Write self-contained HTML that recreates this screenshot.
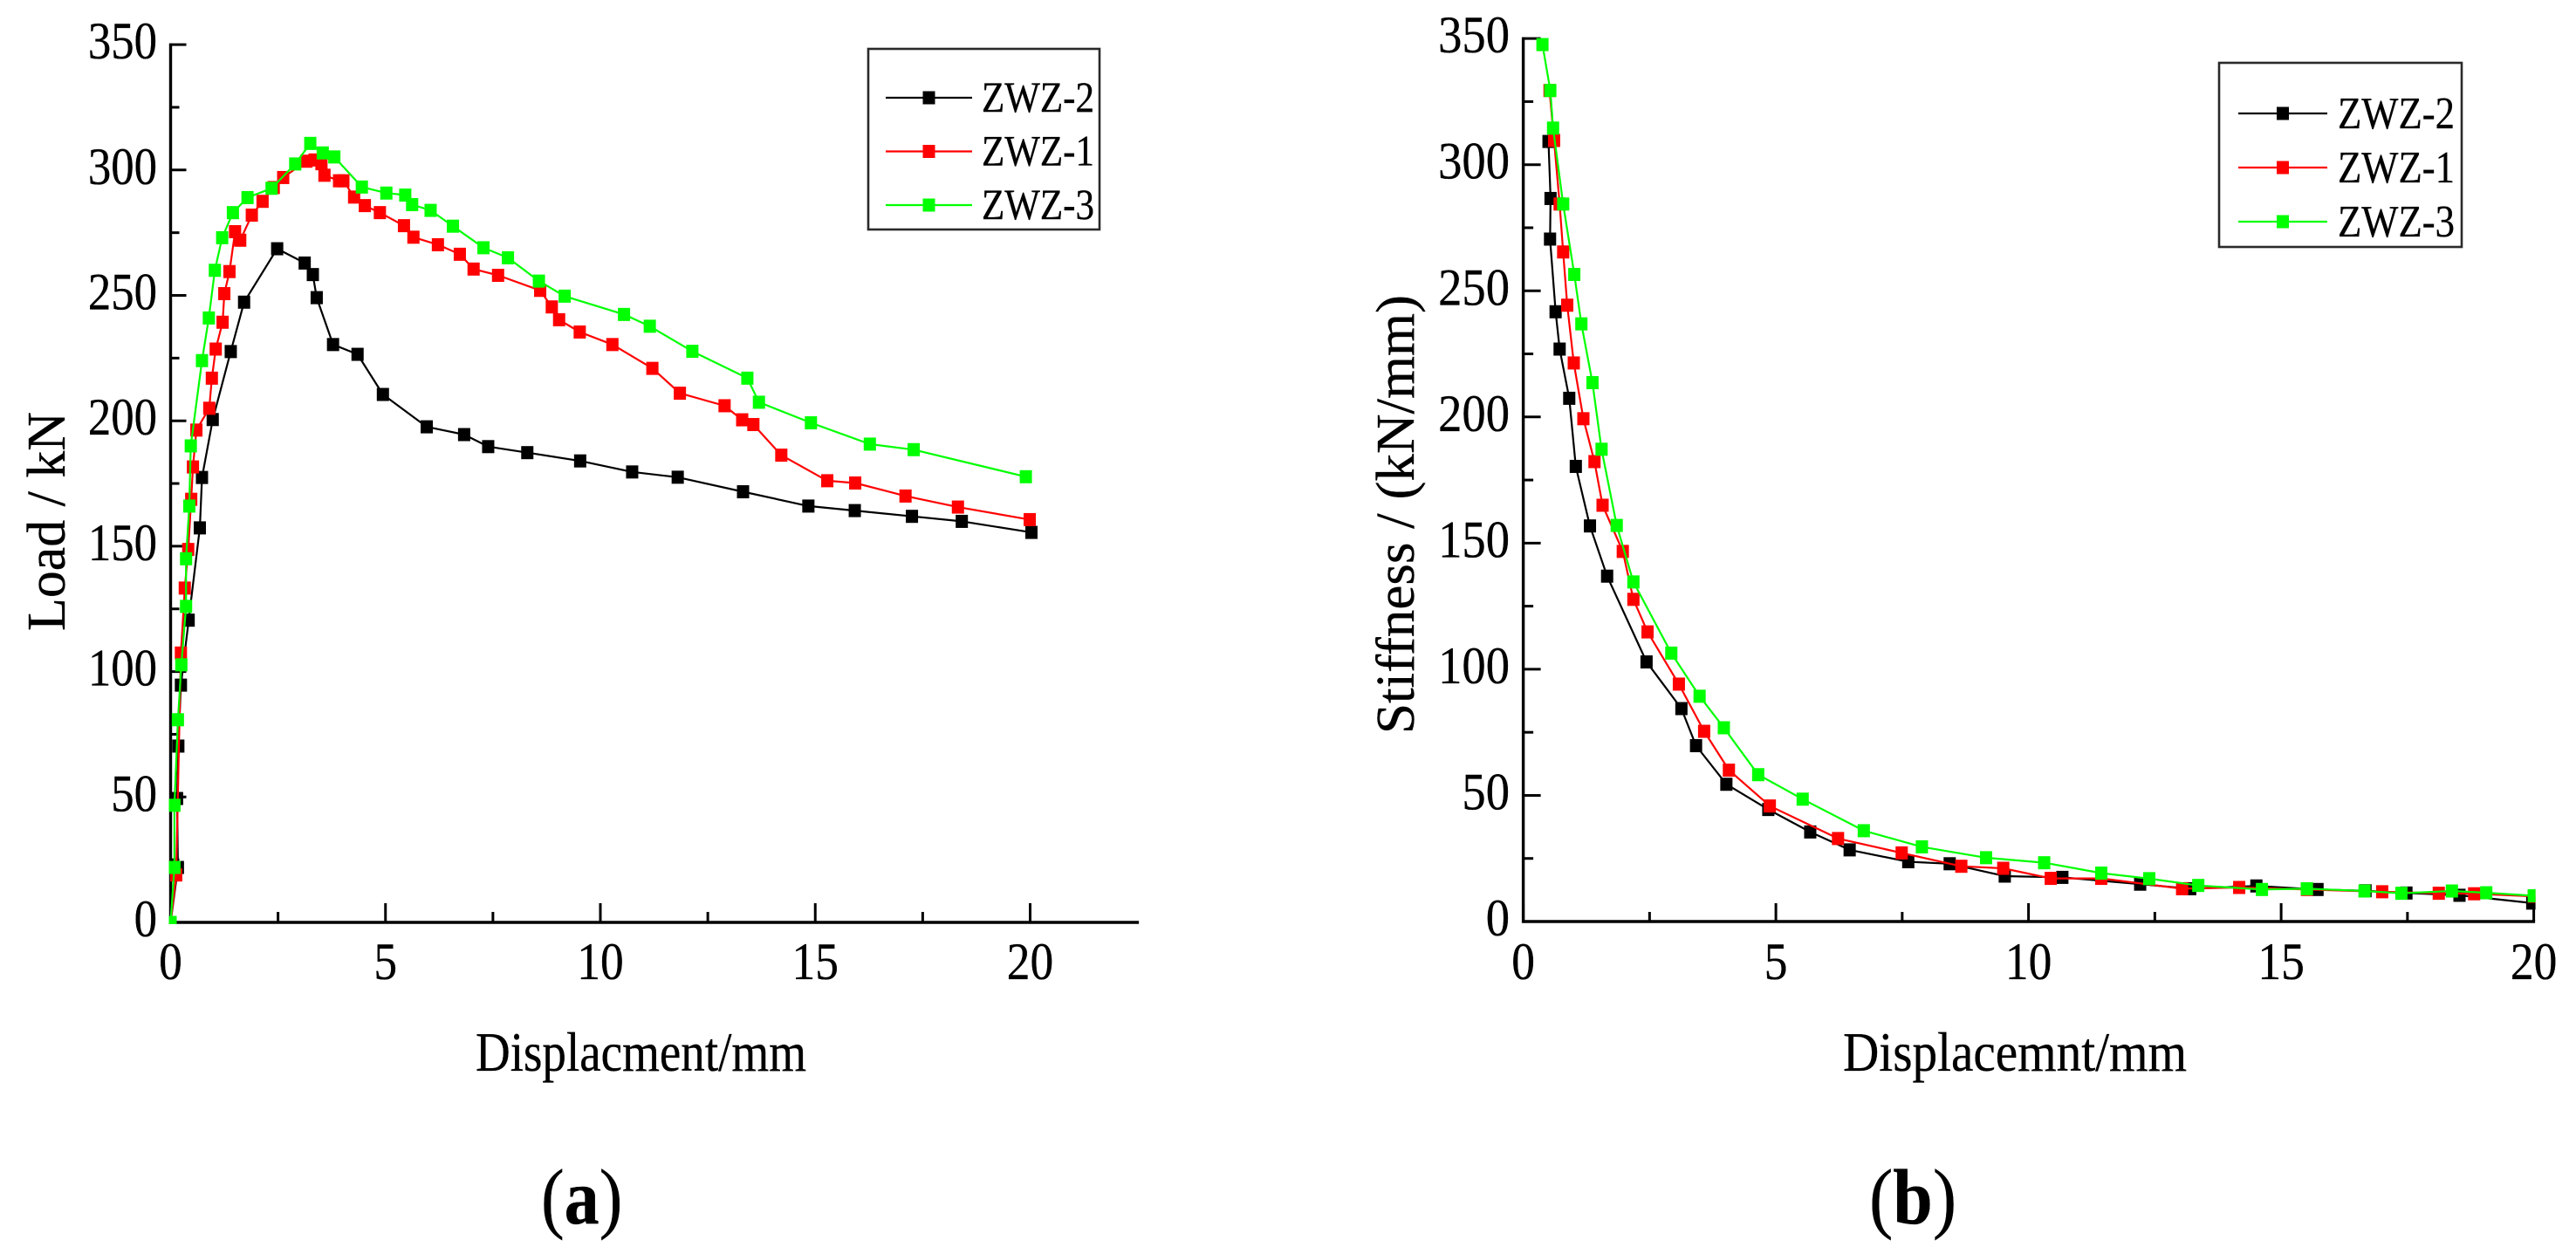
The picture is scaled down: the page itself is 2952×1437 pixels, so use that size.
<!DOCTYPE html>
<html lang="en">
<head>
<meta charset="utf-8">
<title>Load and stiffness versus displacement</title>
<style>
html,body{margin:0;padding:0;background:#fff;width:2952px;height:1437px;overflow:hidden}
svg{display:block}
text{font-family:"Liberation Serif",serif;fill:#000;stroke:#000;stroke-width:0.35px}
</style>
</head>
<body>
<svg id="figure" xmlns="http://www.w3.org/2000/svg" width="2952" height="1437" viewBox="0 0 2952 1437"></svg>
<script>
const xTicks = [0, 5, 10, 15, 20];
const yTicks = [0, 50, 100, 150, 200, 250, 300, 350];
const xMinorTicks = [2.5, 7.5, 12.5, 17.5];
const yMinorTicks = [25, 75, 125, 175, 225, 275, 325];
const seriesNames = ['ZWZ-2', 'ZWZ-1', 'ZWZ-3'];

const loadZ2X = [0, 0.17, 0.15, 0.18, 0.24, 0.42, 0.68, 0.73, 0.98, 1.4, 1.71, 2.48, 3.12, 3.31, 3.4, 3.78, 4.35, 4.94, 5.96, 6.83, 7.39, 8.3, 9.53, 10.74, 11.8, 13.32, 14.84, 15.92, 17.25, 18.41, 20.03];
const loadZ2Y = [0, 21.9, 49.4, 70.3, 94.6, 120.5, 157.3, 177.4, 200.5, 227.6, 247.3, 268.6, 262.9, 258.3, 249.1, 230.4, 226.5, 210.5, 197.6, 194.5, 189.7, 187.3, 184, 179.6, 177.5, 171.7, 166, 164.2, 161.9, 159.9, 155.5];
const loadZ1X = [0, 0.13, 0.24, 0.33, 0.41, 0.48, 0.52, 0.6, 0.9, 0.96, 1.05, 1.21, 1.25, 1.37, 1.5, 1.62, 1.89, 2.14, 2.4, 2.62, 3.16, 3.35, 3.51, 3.58, 3.92, 4.02, 4.27, 4.52, 4.87, 5.43, 5.65, 6.22, 6.73, 7.05, 7.62, 8.6, 8.87, 9.04, 9.52, 10.28, 11.21, 11.85, 12.89, 13.3, 13.56, 14.21, 15.28, 15.93, 17.1, 18.32, 19.99];
const loadZ1Y = [0, 18.9, 107.4, 133.3, 148.7, 168.7, 181.6, 196.3, 205, 217, 228.6, 239.3, 250.7, 259.5, 275.4, 272, 282, 287.5, 293, 297, 303.5, 304, 302.5, 297.9, 295.7, 295.7, 289.2, 285.8, 283, 277.8, 273.2, 270.2, 266.4, 260.5, 258, 252, 245.4, 240.3, 235.4, 230.4, 220.9, 211, 206, 200.4, 198.5, 186.3, 176.1, 175.2, 170, 165.6, 160.6];
const loadZ3X = [0, 0.09, 0.09, 0.17, 0.25, 0.36, 0.36, 0.435, 0.47, 0.73, 0.89, 1.03, 1.2, 1.45, 1.79, 2.35, 2.9, 3.25, 3.54, 3.81, 4.45, 5.02, 5.46, 5.62, 6.05, 6.57, 7.28, 7.85, 8.57, 9.17, 10.55, 11.15, 12.14, 13.42, 13.69, 14.9, 16.27, 17.29, 19.9];
const loadZ3Y = [0, 21.9, 46.7, 80.8, 102.7, 126, 145, 166, 190, 224, 241, 260, 273, 283, 289, 292.7, 302.4, 310.6, 306.8, 305.2, 293.2, 290.8, 290, 286.2, 283.9, 277.6, 269, 265, 255.7, 249.7, 242.4, 237.7, 227.7, 217, 207.4, 199.2, 190.7, 188.5, 177.7];

const stiffZ2X = [0.5, 0.54, 0.53, 0.64, 0.72, 0.91, 1.04, 1.32, 1.66, 2.44, 3.13, 3.42, 4.02, 4.85, 5.68, 6.46, 7.62, 8.44, 9.53, 10.67, 12.21, 13.2, 14.51, 15.72, 16.67, 17.48, 18.53, 19.97];
const stiffZ2Y = [309.2, 286.6, 270.5, 241.7, 226.9, 207.4, 180.4, 156.8, 136.9, 102.9, 84.4, 69.7, 54.4, 44.4, 35.5, 28.4, 23.7, 22.9, 18, 17.5, 14.8, 13, 14.1, 12.7, 12.2, 11.3, 10.4, 7.3];
const stiffZ1X = [0.52, 0.61, 0.72, 0.79, 0.87, 1.0, 1.19, 1.41, 1.57, 1.97, 2.18, 2.46, 3.08, 3.58, 4.07, 4.88, 6.23, 7.49, 8.67, 9.5, 10.44, 11.44, 13.04, 14.17, 15.51, 17.0, 18.12, 18.82, 20];
const stiffZ1Y = [329.4, 309.6, 284.4, 265.4, 244.3, 221.4, 199.3, 182.3, 165, 146.7, 127.7, 114.8, 94.1, 75.4, 60, 45.8, 32.9, 27.2, 21.9, 21.1, 17.1, 17.1, 13, 13.5, 12.7, 11.8, 11.2, 11, 10];
const stiffZ3X = [0.38, 0.535, 0.59, 0.79, 1.01, 1.15, 1.37, 1.55, 1.85, 2.18, 2.93, 3.49, 3.97, 4.65, 5.53, 6.74, 7.89, 9.16, 10.31, 11.44, 12.39, 13.36, 14.62, 15.51, 16.65, 17.38, 18.38, 19.06, 20];
const stiffZ3Y = [347.6, 329.4, 314.5, 284.4, 256.5, 236.9, 213.6, 187.2, 157, 134.6, 106.4, 89.3, 76.8, 58.2, 48.5, 36, 29.6, 25.3, 23.3, 19.2, 17, 14.3, 12.7, 13, 12.1, 11.2, 12.1, 11.4, 10.2];

const NS = 'http://www.w3.org/2000/svg';
const figure = document.getElementById('figure');
const seriesColors = ['#000000', '#ff0000', '#00ff00'];

function make(parent, tag, attrs) {
  const el = document.createElementNS(NS, tag);
  for (const k in attrs) el.setAttribute(k, attrs[k]);
  parent.appendChild(el);
  return el;
}

function drawText(parent, name, content, attrs) {
  const el = make(parent, 'text', attrs);
  el.textContent = content;
  
  
  return el;
}

function drawLine(parent, name, x1, y1, x2, y2, width, color) {
  const el = make(parent, 'line', {x1: x1, y1: y1, x2: x2, y2: y2, stroke: color, 'stroke-width': width, 'stroke-linecap': 'butt'});
  
  
  return el;
}

function drawMarker(parent, name, cx, cy, color) {
  const el = make(parent, 'rect', {x: cx - 7, y: cy - 7.5, width: 14, height: 15, fill: color});
  
  
  return el;
}

function drawPanel(p) {
  const g = make(figure, 'g', {});
  
  

  const sx = v => p.x0 + v * p.xUnit;
  const sy = v => p.y0 - v * p.yUnit;

  // axes
  drawLine(g, p.id + '-y-axis', p.x0, sy(350) - 1.5, p.x0, p.y0 + 1.5, 3.4, '#000');
  drawLine(g, p.id + '-x-axis', p.x0 - 1.5, p.y0, sx(p.xMax) + 1.5, p.y0, 3.4, '#000');

  yTicks.forEach(v => {
    drawLine(g, p.id + '-y-major-tick', p.x0, sy(v), p.x0 + p.yMajor, sy(v), 3, '#000');
    drawText(g, p.id + '-y-tick-label', String(v), {'font-size': 60, 'text-anchor': 'end',
      transform: 'translate(' + p.yLabelX + ',' + (sy(v) + 16) + ') scale(' + p.yLabelScale + ',1)'});
  });
  yMinorTicks.forEach(v => {
    drawLine(g, p.id + '-y-minor-tick', p.x0, sy(v), p.x0 + p.yMinor, sy(v), 3, '#000');
  });
  xTicks.forEach(v => {
    drawLine(g, p.id + '-x-major-tick', sx(v), p.y0, sx(v), p.y0 - p.xMajor, 3, '#000');
    drawText(g, p.id + '-x-tick-label', String(v), {'font-size': 60, 'text-anchor': 'middle',
      transform: 'translate(' + sx(v) + ',1122) scale(0.89,1)'});
  });
  xMinorTicks.forEach(v => {
    drawLine(g, p.id + '-x-minor-tick', sx(v), p.y0, sx(v), p.y0 - p.xMinor, 3, '#000');
  });

  // titles
  drawText(g, p.id + '-x-axis-title', p.xTitle, {'font-size': 63, x: p.xTitleX, y: 1227,
    textLength: p.xTitleLen, lengthAdjust: 'spacingAndGlyphs'});
  drawText(g, p.id + '-y-axis-title', p.yTitle, {'font-size': 62, x: 0, y: 0,
    transform: 'translate(' + p.yTitleX + ',' + p.yTitleY + ') rotate(-90)',
    textLength: p.yTitleLen, lengthAdjust: 'spacingAndGlyphs'});

  // clipped plot region
  const defs = make(g, 'defs', {});
  const clip = make(defs, 'clipPath', {id: p.id + '-clip'});
  make(clip, 'rect', {x: p.x0 - 2, y: 0, width: sx(p.xMax) - p.x0 + 4, height: p.y0 + 2});
  const plot = make(g, 'g', {'clip-path': 'url(#' + p.id + '-clip)'});
  
  

  p.series.forEach((s, i) => {
    const sg = make(plot, 'g', {});
    
    
    const pts = s.x.map((x, j) => sx(x).toFixed(1) + ',' + sy(s.y[j]).toFixed(1)).join(' ');
    const line = make(sg, 'polyline', {points: pts, fill: 'none', stroke: seriesColors[i], 'stroke-width': 2.2, 'stroke-linejoin': 'round'});
    
    
    s.x.forEach((x, j) => {
      drawMarker(sg, p.id + '-point-' + seriesNames[i].toLowerCase(), sx(x), sy(s.y[j]), seriesColors[i]);
    });
  });

  // legend
  const lg = make(g, 'g', {});
  
  
  const box = make(lg, 'rect', {x: p.lgX, y: p.lgY, width: p.lgW, height: p.lgH, fill: '#fff', stroke: '#2a2a2a', 'stroke-width': 2.6});
  
  
  seriesNames.forEach((name, i) => {
    const rowY = p.lgRowY + i * p.lgRowGap;
    drawLine(lg, p.id + '-legend-line-' + name.toLowerCase(), p.lgLine0, rowY, p.lgLine1, rowY, 2.2, seriesColors[i]);
    drawMarker(lg, p.id + '-legend-marker-' + name.toLowerCase(), (p.lgLine0 + p.lgLine1) / 2, rowY, seriesColors[i]);
    drawText(lg, p.id + '-legend-label-' + name.toLowerCase(), name, {'font-size': p.lgFont, x: p.lgTextX, y: rowY + p.lgTextDy,
      textLength: p.lgTextLen, lengthAdjust: 'spacingAndGlyphs'});
  });
}

drawPanel({
  id: 'load', x0: 195.5, y0: 1057, xUnit: 49.25, yUnit: 2.874, xMax: 22.5,
  yMajor: 18, yMinor: 10, xMajor: 22, xMinor: 12, yLabelX: 180, yLabelScale: 0.88,
  xTitle: 'Displacment/mm', xTitleX: 545, xTitleLen: 379,
  yTitle: 'Load / kN', yTitleX: 74, yTitleY: 723, yTitleLen: 251,
  lgX: 995, lgY: 56, lgW: 265, lgH: 207, lgRowY: 112, lgRowGap: 61.5, lgLine0: 1015, lgLine1: 1114,
  lgFont: 50, lgTextX: 1125, lgTextDy: 16, lgTextLen: 129,
  series: [{x: loadZ2X, y: loadZ2Y}, {x: loadZ1X, y: loadZ1Y}, {x: loadZ3X, y: loadZ3Y}]
});

drawPanel({
  id: 'stiffness', x0: 1745.6, y0: 1056, xUnit: 57.9, yUnit: 2.891, xMax: 20,
  yMajor: 20, yMinor: 11.5, xMajor: 21, xMinor: 11, yLabelX: 1730, yLabelScale: 0.91,
  xTitle: 'Displacemnt/mm', xTitleX: 2112, xTitleLen: 394,
  yTitle: 'Stiffness / (kN/mm)', yTitleX: 1620, yTitleY: 841, yTitleLen: 503,
  lgX: 2543, lgY: 72, lgW: 278, lgH: 211, lgRowY: 130, lgRowGap: 62, lgLine0: 2565, lgLine1: 2667,
  lgFont: 52, lgTextX: 2679, lgTextDy: 17, lgTextLen: 134,
  series: [{x: stiffZ2X, y: stiffZ2Y}, {x: stiffZ1X, y: stiffZ1Y}, {x: stiffZ3X, y: stiffZ3Y}]
});

function drawCaption(name, letter, x, y, scale) {
  const t = make(figure, 'text', {'font-size': 90, transform: 'translate(' + x + ',' + y + ') scale(' + scale + ',1)'});
  
  
  t.appendChild(document.createTextNode('('));
  const b = make(t, 'tspan', {'font-weight': 'bold'});
  b.textContent = letter;
  t.appendChild(document.createTextNode(')'));
}
drawCaption('panel-a-caption', 'a', 620, 1402, 0.89);
drawCaption('panel-b-caption', 'b', 2142, 1402, 0.91);
</script>
</body>
</html>
